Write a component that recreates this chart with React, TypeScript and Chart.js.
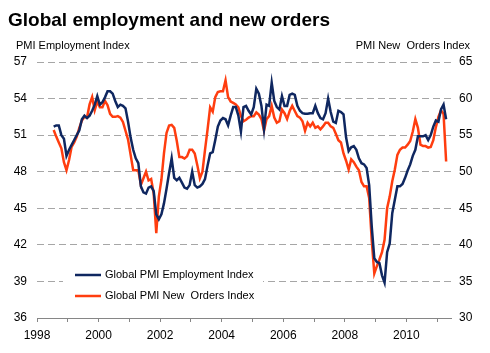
import React, { useEffect, useRef } from 'react';
import { Chart, registerables } from 'chart.js';

Chart.register(...registerables);

const TITLE = 'Global employment and new orders';
const LEFT_AXIS_TITLE = 'PMI Employment Index';
const RIGHT_AXIS_TITLE = 'PMI New  Orders Index';
const SERIES_NAMES = ['Global PMI Employment Index', 'Global PMI New  Orders Index'];
const SERIES_COLORS = ['#0f2760', '#ff3d0f'];

// Monthly data, first observation July 1998
const START_YEAR = 1998;
const START_MONTH = 7;

const employment = [
  51.7, 51.8, 51.8, 51.0, 50.7, 49.3, 49.8, 50.2, 50.6, 51.0,
  51.4, 52.3, 52.6, 52.4, 52.6, 53.0, 53.5, 54.2, 53.5, 53.7,
  54.1, 54.6, 54.6, 54.4, 53.8, 53.3, 53.5, 53.4, 53.2, 52.1,
  50.8, 49.8, 49.1, 48.7, 46.8, 46.3, 46.2, 46.7, 46.8, 46.4,
  44.5, 44.1, 44.5, 45.4, 46.6, 47.9, 49.1, 47.5, 47.3, 47.5,
  47.1, 46.7, 46.6, 46.9, 48.0, 46.9, 46.7, 46.8, 47.0, 47.4,
  48.5, 49.5, 49.6, 50.6, 51.7, 52.2, 52.4, 52.3, 51.8, 52.6,
  53.3, 53.3, 52.6, 51.3, 53.3, 53.4, 53.0, 52.7, 53.3, 54.8,
  54.4, 53.4, 51.5, 53.5, 53.4, 55.3, 53.8, 53.3, 53.1, 54.2,
  53.4, 53.4, 54.3, 54.4, 54.3, 53.4, 53.0, 52.8, 52.75, 52.75,
  52.8, 52.8, 53.4, 52.8, 52.4, 52.3, 52.8, 54.0, 52.9, 52.1,
  52.0, 53.0, 52.9, 52.7, 50.8, 49.7, 50.0, 50.1, 49.8, 49.1,
  48.7, 48.6, 48.3, 46.9, 43.5, 40.9, 40.6, 40.5, 39.5, 38.9,
  41.4, 42.1, 44.6, 45.7, 46.8, 46.8, 47.0, 47.5, 48.1, 48.6,
  49.3, 49.8, 50.9, 50.9, 50.9, 51.0, 50.6, 51.0, 51.7, 52.2,
  52.1, 53.1, 53.5, 52.3,
];

const newOrders = [
  55.7, 54.8, 54.0, 53.2, 51.3, 50.2, 51.6, 53.4, 54.0, 54.8,
  56.0, 57.0, 57.5, 57.4, 59.2, 60.2, 58.4, 59.6, 58.8, 58.8,
  59.7, 59.1, 57.9, 57.5, 57.5, 57.6, 57.4, 56.8, 55.6, 54.4,
  52.3, 50.2, 50.2, 50.2, 48.2, 49.1, 50.0, 48.8, 49.0, 47.0,
  41.6, 46.6, 48.9, 52.5, 55.3, 56.3, 56.4, 56.0, 54.2, 52.0,
  52.0, 51.8, 52.1, 53.0, 53.0, 52.5, 50.9, 49.1, 50.0, 53.0,
  55.8, 58.8, 58.2, 60.2, 60.9, 61.0, 61.0, 62.5, 60.2, 59.6,
  59.4, 59.2, 58.8, 57.6, 56.9, 57.1, 57.4, 57.6, 57.6, 58.1,
  57.8, 57.2, 55.6, 57.2, 57.6, 59.0, 57.4, 56.7, 56.9, 58.5,
  58.0, 57.2, 58.3, 59.0, 58.3, 57.6, 57.4, 56.9, 55.6, 56.7,
  56.2, 56.7, 56.0, 56.2, 55.8, 56.2, 56.7, 56.7, 56.2, 56.0,
  55.2, 54.3, 54.0, 52.5, 51.5, 50.3, 51.7, 51.3, 50.7, 50.2,
  48.6, 48.0, 48.0, 46.4, 40.6, 36.1, 37.1, 38.0, 39.0, 40.7,
  45.0, 46.6, 48.7, 50.3, 52.3, 53.0, 53.3, 53.3, 53.7, 54.2,
  55.5, 57.2, 56.0, 53.7, 53.5, 53.5, 53.3, 53.4, 54.3, 56.1,
  57.5, 58.4, 57.9, 51.4,
];

const X_MIN = 1998;
const X_MAX = 2011.45;
const LEFT_MIN = 36;
const LEFT_MAX = 57;
const LEFT_STEP = 3;
const RIGHT_MIN = 30;
const RIGHT_MAX = 65;
const RIGHT_STEP = 5;

const FONT = '"Liberation Sans", Arial, Helvetica, sans-serif';

const toPoints = (arr: number[]) =>
  arr.map((v, i) => ({ x: START_YEAR + (START_MONTH - 1 + i + 0.5) / 12, y: v }));

const overlayPlugin = {
  id: 'overlay',
  afterDatasetsDraw(chart: any) {
    const { ctx, chartArea } = chart;
    ctx.save();
    const bx = chartArea.left + 26;
    const by = chartArea.top + 200;
    ctx.fillStyle = '#ffffff';
    ctx.fillRect(bx, by, 200, 44);
    ctx.font = `11px ${FONT}`;
    ctx.textBaseline = 'middle';
    ctx.textAlign = 'left';
    SERIES_NAMES.forEach((name, i) => {
      const y = by + 13 + i * 21;
      ctx.strokeStyle = SERIES_COLORS[i];
      ctx.lineWidth = 2.5;
      ctx.beginPath();
      ctx.moveTo(bx + 12, y);
      ctx.lineTo(bx + 38, y);
      ctx.stroke();
      ctx.fillStyle = '#000';
      ctx.fillText(name, bx + 42, y);
    });
    ctx.restore();
  },
  afterDraw(chart: any) {
    const { ctx } = chart;
    ctx.save();
    ctx.fillStyle = '#000';
    ctx.textBaseline = 'alphabetic';
    ctx.font = `bold 19px ${FONT}`;
    ctx.textAlign = 'left';
    ctx.fillText(TITLE, 8, 26);
    ctx.font = `11px ${FONT}`;
    ctx.fillText(LEFT_AXIS_TITLE, 16, 49);
    ctx.textAlign = 'right';
    ctx.fillText(RIGHT_AXIS_TITLE, 470, 49);
    ctx.restore();
  },
};

export default function App() {
  const ref = useRef<HTMLCanvasElement>(null);
  useEffect(() => {
    const canvas = ref.current;
    if (!canvas) return;
    const chart = new Chart(canvas, {
      type: 'line',
      data: {
        datasets: [
          {
            label: SERIES_NAMES[0],
            data: toPoints(employment),
            borderColor: SERIES_COLORS[0],
            borderWidth: 2.5,
            pointRadius: 0,
            tension: 0,
            yAxisID: 'y',
          },
          {
            label: SERIES_NAMES[1],
            data: toPoints(newOrders),
            borderColor: SERIES_COLORS[1],
            borderWidth: 2.5,
            pointRadius: 0,
            tension: 0,
            yAxisID: 'y1',
          },
        ],
      },
      options: {
        animation: false,
        responsive: false,
        devicePixelRatio: 1,
        layout: { padding: { top: 62, left: 0, right: 0, bottom: 0 } },
        plugins: {
          legend: { display: false },
          title: { display: false },
          tooltip: { enabled: false },
        },
        scales: {
          x: {
            type: 'linear',
            min: X_MIN,
            max: X_MAX,
            position: 'bottom',
            ticks: {
              stepSize: 1,
              autoSkip: false,
              includeBounds: false,
              maxRotation: 0,
              padding: 6,
              color: '#000',
              font: { family: FONT, size: 12 },
              callback: (v: any) => (Number(v) % 2 === 0 ? String(v) : ''),
            },
            grid: { drawOnChartArea: false, drawTicks: true, tickLength: 4, color: '#868686' },
            border: { display: true, color: '#868686', width: 1 },
            afterFit: (s: any) => { s.height = 35; },
          },
          y: {
            position: 'left',
            min: LEFT_MIN,
            max: LEFT_MAX,
            ticks: { stepSize: LEFT_STEP, padding: 10, color: '#000', font: { family: FONT, size: 12 } },
            grid: { color: '#a6a6a6', drawTicks: false, lineWidth: 1 },
            border: { display: false, dash: [7, 4] },
            afterFit: (s: any) => { s.width = 37; },
          },
          y1: {
            position: 'right',
            min: RIGHT_MIN,
            max: RIGHT_MAX,
            ticks: { stepSize: RIGHT_STEP, padding: 8, color: '#000', font: { family: FONT, size: 12 } },
            grid: { drawOnChartArea: false, drawTicks: false },
            border: { display: false },
            afterFit: (s: any) => { s.width = 39; },
          },
        },
      },
      plugins: [overlayPlugin],
    } as any);
    return () => chart.destroy();
  }, []);
  return (
    <div style={{ position: 'absolute', left: 0, top: 0, width: 490, height: 353, background: '#fff' }}>
      <canvas ref={ref} width={490} height={353} style={{ display: 'block', width: 490, height: 353 }} />
    </div>
  );
}
